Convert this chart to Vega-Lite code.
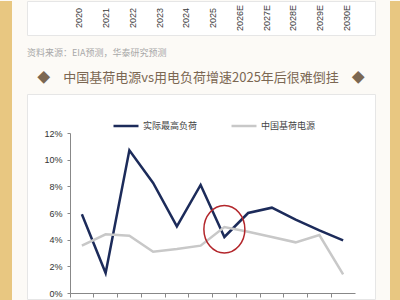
{
  "$schema": "https://vega.github.io/schema/vega-lite/v6.json",
  "padding": 0,
  "background": "#fcfaf6",
  "spacing": 14,
  "datasets": {
    "years": [
      {"label": "2020"}, {"label": "2021"}, {"label": "2022"}, {"label": "2023"},
      {"label": "2024"}, {"label": "2025"}, {"label": "2026E"}, {"label": "2027E"},
      {"label": "2028E"}, {"label": "2029E"}, {"label": "2030E"}
    ],
    "growth": [
      {"year": "2019", "series": "实际最高负荷", "value": 0.059},
      {"year": "2020", "series": "实际最高负荷", "value": 0.015},
      {"year": "2021", "series": "实际最高负荷", "value": 0.107},
      {"year": "2022", "series": "实际最高负荷", "value": 0.0825},
      {"year": "2023", "series": "实际最高负荷", "value": 0.050},
      {"year": "2024", "series": "实际最高负荷", "value": 0.081},
      {"year": "2025E", "series": "实际最高负荷", "value": 0.042},
      {"year": "2026E", "series": "实际最高负荷", "value": 0.060},
      {"year": "2027E", "series": "实际最高负荷", "value": 0.064},
      {"year": "2028E", "series": "实际最高负荷", "value": 0.055},
      {"year": "2029E", "series": "实际最高负荷", "value": 0.047},
      {"year": "2030E", "series": "实际最高负荷", "value": 0.0395},
      {"year": "2019", "series": "中国基荷电源", "value": 0.0355},
      {"year": "2020", "series": "中国基荷电源", "value": 0.044},
      {"year": "2021", "series": "中国基荷电源", "value": 0.043},
      {"year": "2022", "series": "中国基荷电源", "value": 0.031},
      {"year": "2023", "series": "中国基荷电源", "value": 0.033},
      {"year": "2024", "series": "中国基荷电源", "value": 0.0355},
      {"year": "2025E", "series": "中国基荷电源", "value": 0.0495},
      {"year": "2026E", "series": "中国基荷电源", "value": 0.046},
      {"year": "2027E", "series": "中国基荷电源", "value": 0.042},
      {"year": "2028E", "series": "中国基荷电源", "value": 0.038},
      {"year": "2029E", "series": "中国基荷电源", "value": 0.0435},
      {"year": "2030E", "series": "中国基荷电源", "value": 0.014}
    ]
  },
  "hconcat": [
    {
      "width": 12,
      "height": 300,
      "view": {"fill": "#e8c781", "stroke": null},
      "data": {"values": [{}]},
      "mark": {"type": "rect", "color": "#e8c781"},
      "encoding": {}
    },
    {
      "spacing": 12,
      "vconcat": [
        {
          "width": 348,
          "height": 34,
          "data": {"name": "years"},
          "view": {"fill": "#ffffff", "stroke": "#e6e6e6"},
          "title": {
            "text": "资料来源：EIA预测，华泰研究预测",
            "orient": "bottom",
            "anchor": "start",
            "fontSize": 9,
            "fontWeight": "normal",
            "color": "#a8a8a8",
            "font": "Noto Sans CJK SC",
            "offset": 14
          },
          "mark": {"type": "text", "angle": 270, "fontSize": 9, "color": "#3a3a3a", "font": "Liberation Sans"},
          "encoding": {
            "x": {
              "field": "label",
              "type": "ordinal",
              "scale": {"type": "band", "paddingInner": 0, "paddingOuter": 1.091, "align": 0.726},
              "axis": null
            },
            "text": {"field": "label"}
          }
        },
        {
          "width": 348,
          "height": 205,
          "data": {"name": "growth"},
          "view": {"fill": "#ffffff", "stroke": "#e6e6e6"},
          "title": {
            "text": "◆　中国基荷电源vs用电负荷增速2025年后很难倒挂　◆",
            "anchor": "middle",
            "fontSize": 13,
            "fontWeight": "normal",
            "color": "#7b6752",
            "font": "Noto Sans CJK SC",
            "offset": 9
          },
          "layer": [
            {
              "mark": {"type": "line", "strokeWidth": 2.5},
              "encoding": {
                "x": {
                  "field": "year",
                  "type": "ordinal",
                  "bandPosition": 0.5,
                  "scale": {"type": "band", "range": [43, 328], "paddingInner": 0, "paddingOuter": 0},
                  "axis": {
                    "orient": "bottom",
                    "offset": -6,
                    "labels": false,
                    "title": null,
                    "grid": false,
                    "bandPosition": 0,
                    "domainColor": "#888888",
                    "tickColor": "#888888",
                    "tickSize": 4
                  }
                },
                "y": {
                  "field": "value",
                  "type": "quantitative",
                  "scale": {"domain": [0, 0.12], "range": [199, 39], "nice": false, "zero": true},
                  "axis": {
                    "orient": "left",
                    "offset": -43,
                    "values": [0, 0.02, 0.04, 0.06, 0.08, 0.1, 0.12],
                    "format": ".0%",
                    "title": null,
                    "grid": false,
                    "labelOverlap": false,
                    "domainColor": "#888888",
                    "tickColor": "#888888",
                    "tickSize": 3,
                    "labelPadding": 5,
                    "labelFont": "Liberation Sans",
                    "labelFontSize": 9,
                    "labelColor": "#333333"
                  }
                },
                "color": {
                  "field": "series",
                  "type": "nominal",
                  "scale": {"domain": ["实际最高负荷", "中国基荷电源"], "range": ["#1c2b5a", "#c8c8c8"]},
                  "legend": {
                    "orient": "none",
                    "legendX": 112,
                    "legendY": 111,
                    "direction": "horizontal",
                    "title": null,
                    "symbolType": "stroke",
                    "symbolSize": 625,
                    "symbolStrokeWidth": 2.5,
                    "labelFont": "Noto Sans CJK SC",
                    "labelFontSize": 9,
                    "labelColor": "#444444",
                    "columnPadding": 28,
                    "labelOffset": 3,
                    "padding": 0
                  }
                }
              }
            },
            {
              "data": {"values": [{"note": "2025年后很难倒挂"}]},
              "mark": {
                "type": "point",
                "shape": "M0,-1A0.865,1,0,1,1,0,1A0.865,1,0,1,1,0,-1Z",
                "filled": false,
                "stroke": "#b3262b",
                "strokeWidth": 1.5,
                "size": 2247,
                "opacity": 1
              },
              "encoding": {
                "x": {
                  "datum": "2025E",
                  "type": "ordinal",
                  "bandPosition": 0.5,
                  "axis": {
                    "orient": "bottom",
                    "offset": -6,
                    "labels": false,
                    "title": null,
                    "grid": false,
                    "bandPosition": 0,
                    "domainColor": "#888888",
                    "tickColor": "#888888",
                    "tickSize": 4
                  }
                },
                "y": {
                  "datum": 0.0478,
                  "type": "quantitative",
                  "axis": {
                    "orient": "left",
                    "offset": -43,
                    "values": [0, 0.02, 0.04, 0.06, 0.08, 0.1, 0.12],
                    "format": ".0%",
                    "title": null,
                    "grid": false,
                    "labelOverlap": false,
                    "domainColor": "#888888",
                    "tickColor": "#888888",
                    "tickSize": 3,
                    "labelPadding": 5,
                    "labelFont": "Liberation Sans",
                    "labelFontSize": 9,
                    "labelColor": "#333333"
                  }
                }
              }
            }
          ]
        }
      ]
    },
    {
      "width": 12,
      "height": 300,
      "view": {"fill": "#e8c781", "stroke": null},
      "data": {"values": [{}]},
      "mark": {"type": "rect", "color": "#e8c781"},
      "encoding": {}
    }
  ]
}
